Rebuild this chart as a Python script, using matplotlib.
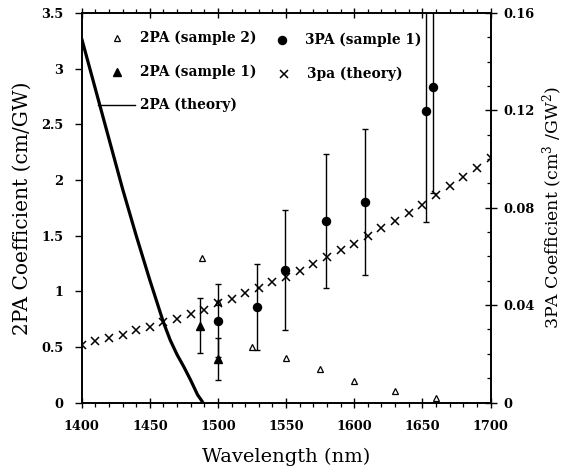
import matplotlib
matplotlib.use("Agg")
import matplotlib.pyplot as plt
from matplotlib.ticker import MultipleLocator

# ---------------- data ----------------
theory2_wl = [1400, 1410, 1420, 1430, 1440, 1450, 1460, 1465, 1470, 1475, 1480, 1485, 1489]
theory2_val = [3.27, 2.82, 2.37, 1.92, 1.50, 1.10, 0.72, 0.56, 0.43, 0.32, 0.20, 0.07, 0.0]

s2_wl = [1488, 1500, 1525, 1550, 1575, 1600, 1630, 1660]
s2_val = [1.30, 0.90, 0.50, 0.40, 0.30, 0.19, 0.10, 0.04]

s1_wl = [1487, 1500]
s1_val = [0.69, 0.39]
s1_err = [0.245, 0.19]

p3_wl = [1500, 1529, 1549, 1579, 1608, 1653, 1658]
p3_val = [0.0335, 0.0393, 0.0544, 0.0744, 0.0824, 0.1196, 0.1295]
p3_err = [0.015, 0.0178, 0.0246, 0.0275, 0.030, 0.0453, 0.0435]

th3_wl = [1400, 1410, 1420, 1430, 1440, 1450, 1460, 1470, 1480, 1490,
          1500, 1510, 1520, 1530, 1540, 1550, 1560, 1570, 1580, 1590,
          1600, 1610, 1620, 1630, 1640, 1650, 1660, 1670, 1680, 1690, 1700]
th3_val = [0.0238, 0.0252, 0.0263, 0.0277, 0.0296, 0.0310, 0.0331, 0.0345, 0.0362, 0.0382,
           0.0407, 0.0427, 0.0448, 0.0471, 0.0493, 0.0517, 0.0541, 0.0568, 0.0597, 0.0627,
           0.0652, 0.0682, 0.0717, 0.0747, 0.0779, 0.0813, 0.0851, 0.0888, 0.0926, 0.0962, 0.1006]

x_ticks = [1400, 1450, 1500, 1550, 1600, 1650, 1700]
y_left_ticks = [0, 0.5, 1, 1.5, 2, 2.5, 3, 3.5]
y_left_labels = ["0", "0.5", "1", "1.5", "2", "2.5", "3", "3.5"]
y_right_ticks = [0, 0.04, 0.08, 0.12, 0.16]
y_right_labels = ["0", "0.04", "0.08", "0.12", "0.16"]

# ---------------- style ----------------
plt.rcParams['font.family'] = ['DejaVu Serif']
plt.rcParams['mathtext.fontset'] = 'dejavuserif'
tickfont = dict(family='DejaVu Serif', weight='bold', size=9.3)

fig = plt.figure(figsize=(5.68, 4.72), dpi=100)
ax = fig.add_axes([0.1438, 0.1472, 0.7198, 0.8253])
ax2 = ax.twinx()

for a in (ax, ax2):
    for s in a.spines.values():
        s.set_linewidth(1.2)

ax.set_xlim(1400, 1700)
ax.set_ylim(0, 3.5)
ax2.set_ylim(0, 0.16)

# 2PA theory
ax.plot(theory2_wl, theory2_val, color='black', lw=2.3, solid_capstyle='butt', zorder=3)
# 2PA sample 2
ax.plot(s2_wl, s2_val, ls='none', marker='^', ms=5, mfc='white', mec='black', mew=0.9, zorder=4)
# 2PA sample 1
ax.errorbar(s1_wl, s1_val, yerr=s1_err, fmt='^', ms=6, color='black', ecolor='black',
            elinewidth=1.0, capsize=2.3, capthick=1.0, zorder=4)

# 3PA sample 1
ax2.errorbar(p3_wl, p3_val, yerr=p3_err, fmt='o', ms=5.8, color='black', ecolor='black',
             elinewidth=1.0, capsize=2.3, capthick=1.0, zorder=4)
# 3pa theory
ax2.plot(th3_wl, th3_val, ls='none', marker='x', ms=6, mew=1.1, color='black', zorder=5)

# ticks
ax.set_xticks(x_ticks)
ax.xaxis.set_minor_locator(MultipleLocator(10))
ax.set_xticklabels([str(t) for t in x_ticks], **tickfont)
ax.set_yticks(y_left_ticks)
ax.set_yticklabels(y_left_labels, **tickfont)
ax.tick_params(axis='x', which='major', direction='inout', length=7, width=1.0, top=True, pad=9)
ax.tick_params(axis='x', which='minor', direction='out', length=3, width=0.9, top=True)
ax.tick_params(axis='y', which='major', direction='out', length=5, width=1.0, pad=8)

ax2.set_yticks(y_right_ticks)
ax2.set_yticklabels(y_right_labels, **tickfont)
ax2.yaxis.set_minor_locator(MultipleLocator(0.01))
ax2.tick_params(axis='y', which='major', direction='inout', length=9, width=1.0, pad=5)
ax2.tick_params(axis='y', which='minor', direction='in', length=3, width=0.9)

ax.set_xlabel("Wavelength (nm)", family='DejaVu Serif', size=14, labelpad=11)
ax.set_ylabel("2PA Coefficient (cm/GW)", family='DejaVu Serif', size=14.5, labelpad=7)
ax2.set_ylabel("3PA Coefficient (cm$^3$ /GW$^2$)", family='DejaVu Serif', size=12.5,
               rotation=90, labelpad=4)

# legend (manual, in axes fraction)
lf = dict(family='DejaVu Serif', weight='bold', size=9.9, va='center', ha='left',
          transform=ax.transAxes)
tr = ax.transAxes
ax.plot([0.0876], [0.936], transform=tr, marker='^', ms=5, mfc='white', mec='black', mew=0.9, ls='none', clip_on=False)
ax.text(0.1426, 0.936, "2PA (sample 2)", **lf)
ax.plot([0.0876], [0.848], transform=tr, marker='^', ms=6, color='black', ls='none', clip_on=False)
ax.text(0.1426, 0.848, "2PA (sample 1)", **lf)
ax.plot([0.040, 0.130], [0.763, 0.763], transform=tr, color='black', lw=1.0)
ax.text(0.1426, 0.763, "2PA (theory)", **lf)
ax.plot([0.490], [0.931], transform=tr, marker='o', ms=5.8, color='black', ls='none', clip_on=False)
ax.text(0.546, 0.931, "3PA (sample 1)", **lf)
ax.plot([0.495], [0.843], transform=tr, marker='x', ms=6, mew=1.1, color='black', ls='none', clip_on=False)
ax.text(0.551, 0.843, "3pa (theory)", **lf)

fig.savefig("out.png", dpi=100)
